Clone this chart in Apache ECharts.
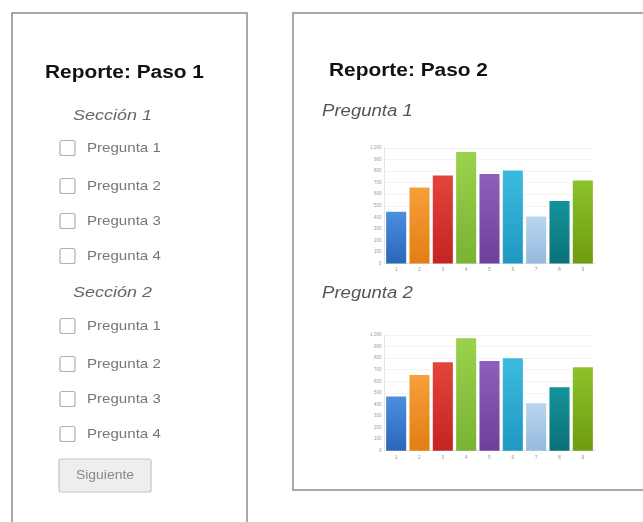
<!DOCTYPE html>
<html>
<head>
<meta charset="utf-8">
<script src="https://cdn.jsdelivr.net/npm/echarts@6/dist/echarts.min.js"></script>
<style>
html, body { margin: 0; padding: 0; background: #fff; }
#c { width: 643px; height: 522px; }
</style>
</head>
<body>
<div id="c"></div>
<script>
// Report data
const categories = ['1', '2', '3', '4', '5', '6', '7', '8', '9'];
const pregunta1Values = [449, 658, 762, 965, 774, 806, 406, 542, 719];
const pregunta2Values = [468, 655, 764, 971, 776, 799, 411, 549, 721];
const yTicks = { min: 0, max: 1000, step: 100 };

// Step 1 form text
const section1Questions = ['Pregunta 1', 'Pregunta 2', 'Pregunta 3', 'Pregunta 4'];
const section2Questions = ['Pregunta 1', 'Pregunta 2', 'Pregunta 3', 'Pregunta 4'];

// Bar palette (top, bottom) per category
const barPalette = [
  ['#4a8fe0', '#2c66bb'],
  ['#f6a03a', '#e47d14'],
  ['#e3443a', '#c32424'],
  ['#9bd24c', '#7ab232'],
  ['#8e5fbc', '#6f3f9e'],
  ['#3cbbe0', '#1f98c2'],
  ['#b9d6f0', '#96b9de'],
  ['#14939a', '#0a7278'],
  ['#8cc22a', '#6d9c10']
];

const FONT = '"Liberation Sans", Arial, sans-serif';
const TEXT_STRETCH = 1.16;

function fmt(v) {
  return v >= 1000 ? String(v).replace(/\B(?=(\d{3})+(?!\d))/g, ',') : String(v);
}

function barItems(values) {
  return values.map((v, i) => ({
    value: v,
    itemStyle: {
      color: new echarts.graphic.LinearGradient(0, 0, 0, 1, [
        { offset: 0, color: barPalette[i][0] },
        { offset: 1, color: barPalette[i][1] }
      ])
    }
  }));
}

// Panels and form elements
const graphics = [];
graphics.push({ type: 'rect', z: 0, shape: { x: 12, y: 13, width: 235, height: 600 },
  style: { fill: '#fff', stroke: '#8c8c8c', lineWidth: 1.5 } });
graphics.push({ type: 'rect', z: 0, shape: { x: 293, y: 13, width: 400, height: 477 },
  style: { fill: '#fff', stroke: '#8c8c8c', lineWidth: 1.5 } });

function text(str, x, y, font, fill, align) {
  graphics.push({ type: 'text', z: 5, x: x, y: y, scaleX: TEXT_STRETCH, style: {
    text: str, x: 0, y: 0, font: font, fill: fill,
    textAlign: align || 'left', textVerticalAlign: 'middle'
  }});
}

text('Reporte: Paso 1', 45, 73, 'bold 18px ' + FONT, '#111');
text('Sección 1', 73, 116, 'italic 15.5px ' + FONT, '#666');
text('Sección 2', 73, 293, 'italic 15.5px ' + FONT, '#666');

function questionRows(list, ys) {
  list.forEach((q, i) => {
    graphics.push({ type: 'rect', z: 5, shape: { x: 60, y: ys[i] - 7.5, width: 15, height: 15, r: 2 },
      style: { fill: '#fff', stroke: '#b0b0b0', lineWidth: 1.2 } });
    text(q, 87, ys[i], '13px ' + FONT, '#777');
  });
}
questionRows(section1Questions, [148, 186, 221, 256]);
questionRows(section2Questions, [326, 364, 399, 434]);

graphics.push({ type: 'rect', z: 5, shape: { x: 59, y: 459, width: 92, height: 33, r: 2 },
  style: { fill: '#eeeeee', stroke: '#c4c4c4', lineWidth: 1.2 } });
text('Siguiente', 105, 475.5, '12px ' + FONT, '#888', 'center');

text('Reporte: Paso 2', 329, 71, 'bold 18px ' + FONT, '#111');
text('Pregunta 1', 322, 112, 'italic 16px ' + FONT, '#555');
text('Pregunta 2', 322, 294, 'italic 16px ' + FONT, '#555');

function yAxisCfg(gridIndex) {
  return {
    type: 'value', gridIndex: gridIndex,
    min: yTicks.min, max: yTicks.max, interval: yTicks.step,
    axisLine: { show: true, lineStyle: { color: '#e4e4e4', width: 1 } },
    axisTick: { show: false },
    splitLine: { show: true, lineStyle: { color: '#f4f4f4', width: 1 } },
    axisLabel: { fontSize: 4.5, color: '#999', margin: 3, fontFamily: FONT, formatter: fmt }
  };
}
function xAxisCfg(gridIndex) {
  return {
    type: 'category', gridIndex: gridIndex, data: categories,
    axisLine: { show: true, lineStyle: { color: '#e4e4e4' } },
    axisTick: { show: false },
    axisLabel: { fontSize: 5, color: '#999', margin: 4, fontFamily: FONT }
  };
}

const chart = echarts.init(document.getElementById('c'));
chart.setOption({
  animation: false,
  backgroundColor: '#fff',
  graphic: graphics,
  grid: [
    { left: 384.5, top: 148, width: 210, height: 115.5 },
    { left: 384.5, top: 335, width: 210, height: 115.7 }
  ],
  xAxis: [xAxisCfg(0), xAxisCfg(1)],
  yAxis: [yAxisCfg(0), yAxisCfg(1)],
  series: [
    { type: 'bar', xAxisIndex: 0, yAxisIndex: 0, data: barItems(pregunta1Values),
      barCategoryGap: '14%', z: 3 },
    { type: 'bar', xAxisIndex: 1, yAxisIndex: 1, data: barItems(pregunta2Values),
      barCategoryGap: '14%', z: 3 }
  ]
});
</script>
</body>
</html>
